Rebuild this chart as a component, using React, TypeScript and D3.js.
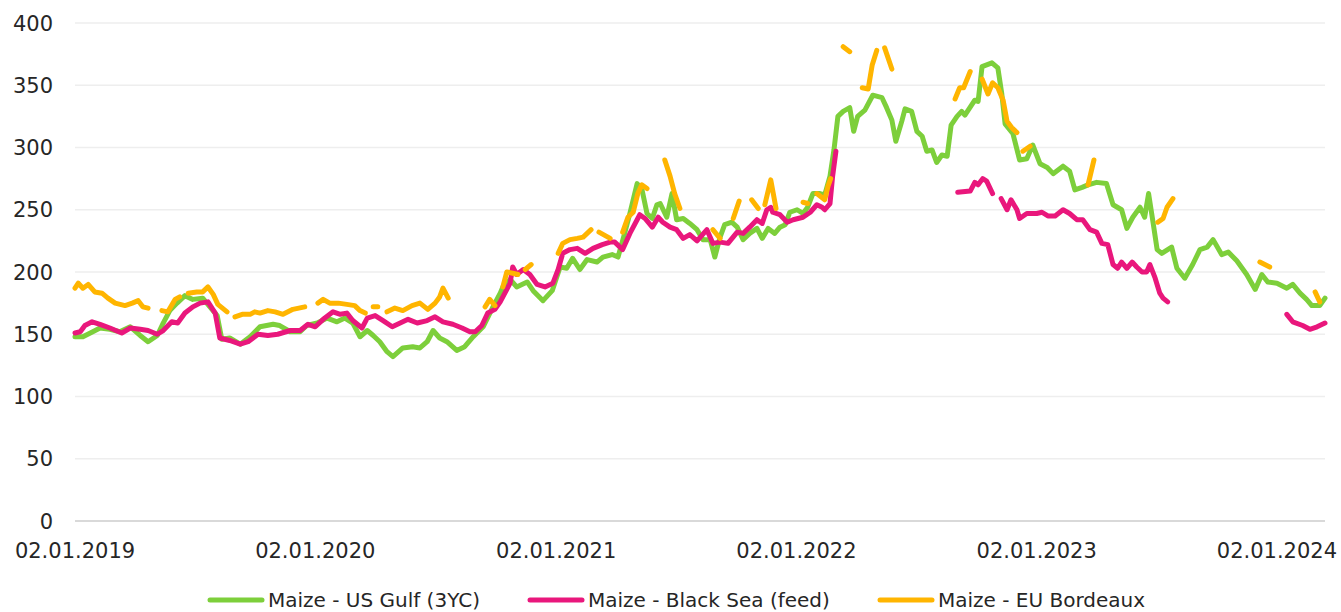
import React from "react";
import * as d3 from "d3";

type Pt = [string | null, number | null];
const GAP: Pt = [null, null];

const seriesNames = ["Maize - US Gulf (3YC)", "Maize - Black Sea (feed)", "Maize - EU Bordeaux"];
const seriesColors = ["#7DCF3B", "#E9177C", "#FFB500"];

const tickDates = ["2019-01-02", "2020-01-02", "2021-01-02", "2022-01-02", "2023-01-02", "2024-01-02"];
const tickLabels = ["02.01.2019", "02.01.2020", "02.01.2021", "02.01.2022", "02.01.2023", "02.01.2024"];
const yTicks = [0, 50, 100, 150, 200, 250, 300, 350, 400];
const xDomain = ["2019-01-02", "2024-03-15"];

const usGulf: Pt[] = [
  ["2019-01-02",148],["2019-01-14",148],["2019-01-29",152],["2019-02-09",155],["2019-02-24",154],["2019-03-11",152],["2019-03-27",156],["2019-04-11",149],["2019-04-23",144],["2019-05-07",149],["2019-05-16",159],["2019-05-26",169],["2019-06-06",175],["2019-06-18",181],["2019-06-30",178],["2019-07-15",179],["2019-07-26",172],["2019-08-06",165],["2019-08-13",146],["2019-08-25",147],["2019-09-10",142],["2019-09-25",148],["2019-10-10",156],["2019-10-30",158],["2019-11-09",157],["2019-11-25",152],["2019-12-10",152],["2019-12-20",157],
  ["2020-01-05",159],["2020-01-20",163],["2020-02-04",160],["2020-02-16",163],["2020-02-28",159],["2020-03-10",148],["2020-03-21",153],["2020-03-30",149],["2020-04-09",144],["2020-04-20",136],["2020-04-29",132],["2020-05-14",139],["2020-05-29",140],["2020-06-09",139],["2020-06-20",144],["2020-06-29",153],["2020-07-09",147],["2020-07-20",144],["2020-08-04",137],["2020-08-16",140],["2020-08-29",148],["2020-09-13",156],["2020-09-28",172],["2020-10-09",183],["2020-10-13",188],["2020-10-24",194],["2020-11-03",188],["2020-11-19",192],["2020-11-28",185],["2020-12-13",177],["2020-12-27",185],
  ["2021-01-08",204],["2021-01-18",203],["2021-01-27",211],["2021-02-07",202],["2021-02-18",210],["2021-03-05",208],["2021-03-14",212],["2021-03-28",214],["2021-04-06",212],["2021-04-16",231],["2021-04-24",247],["2021-05-05",271],["2021-05-12",267],["2021-05-20",247],["2021-05-28",243],["2021-06-04",254],["2021-06-09",255],["2021-06-19",244],["2021-06-27",263],["2021-07-04",242],["2021-07-14",243],["2021-07-24",239],["2021-08-04",234],["2021-08-13",226],["2021-08-24",226],["2021-08-31",212],["2021-09-08",228],["2021-09-15",238],["2021-09-26",240],["2021-10-04",236],["2021-10-13",226],["2021-10-23",231],["2021-11-03",235],["2021-11-11",227],["2021-11-20",235],["2021-11-30",231],["2021-12-08",236],["2021-12-16",238],["2021-12-23",248],
  ["2022-01-03",250],["2022-01-12",247],["2022-01-19",252],["2022-01-27",263],["2022-02-07",263],["2022-02-14",262],["2022-02-22",277],["2022-02-28",298],["2022-03-06",325],["2022-03-14",329],["2022-03-24",332],["2022-03-30",313],["2022-04-05",325],["2022-04-16",330],["2022-04-28",342],["2022-05-12",340],["2022-05-19",332],["2022-05-27",322],["2022-06-02",305],["2022-06-11",321],["2022-06-16",331],["2022-06-26",329],["2022-07-04",313],["2022-07-12",309],["2022-07-19",297],["2022-07-27",298],["2022-08-03",288],["2022-08-11",294],["2022-08-19",293],["2022-08-25",318],["2022-09-03",325],["2022-09-10",329],["2022-09-15",326],["2022-09-30",338],["2022-10-05",337],["2022-10-11",365],["2022-10-26",368],["2022-11-04",364],["2022-11-10",343],["2022-11-15",319],["2022-11-27",311],["2022-12-07",290],["2022-12-18",291],["2022-12-27",302],
  ["2023-01-07",287],["2023-01-18",284],["2023-01-27",279],["2023-02-11",285],["2023-02-21",281],["2023-03-01",266],["2023-03-12",268],["2023-03-21",270],["2023-04-03",272],["2023-04-18",271],["2023-04-28",254],["2023-05-11",250],["2023-05-19",235],["2023-05-28",244],["2023-06-08",252],["2023-06-15",244],["2023-06-21",263],["2023-06-28",239],["2023-07-04",218],["2023-07-11",215],["2023-07-26",220],["2023-08-03",203],["2023-08-15",195],["2023-08-27",206],["2023-09-07",218],["2023-09-18",220],["2023-09-27",226],["2023-10-10",214],["2023-10-20",216],["2023-11-02",209],["2023-11-17",198],["2023-11-30",186],["2023-12-10",198],["2023-12-19",192],
  ["2024-01-02",191],["2024-01-17",187],["2024-01-26",190],["2024-02-06",183],["2024-02-16",178],["2024-02-24",173],["2024-03-07",173],["2024-03-15",179],
];

const blackSea: Pt[] = [
  ["2019-01-02",151],["2019-01-10",152],["2019-01-17",157],["2019-01-28",160],["2019-02-09",158],["2019-02-24",155],["2019-03-14",151],["2019-03-27",155],["2019-04-11",154],["2019-04-23",153],["2019-05-07",150],["2019-05-16",153],["2019-05-29",160],["2019-06-07",159],["2019-06-18",167],["2019-06-30",172],["2019-07-11",175],["2019-07-23",176],["2019-08-03",167],["2019-08-10",147],["2019-08-25",145],["2019-09-10",142],["2019-09-22",144],["2019-10-07",150],["2019-10-22",149],["2019-11-06",150],["2019-11-25",153],["2019-12-10",153],["2019-12-22",158],
  ["2020-01-02",156],["2020-01-14",162],["2020-01-29",168],["2020-02-09",166],["2020-02-19",167],["2020-02-28",161],["2020-03-13",155],["2020-03-21",163],["2020-04-02",165],["2020-04-14",161],["2020-04-28",156],["2020-05-10",159],["2020-05-22",162],["2020-06-05",159],["2020-06-20",161],["2020-07-02",164],["2020-07-14",160],["2020-07-29",158],["2020-08-12",155],["2020-08-24",152],["2020-09-01",152],["2020-09-11",157],["2020-09-20",167],["2020-10-01",170],["2020-10-09",176],["2020-10-13",180],["2020-10-24",191],["2020-10-28",204],["2020-11-03",198],["2020-11-13",202],["2020-11-23",198],["2020-12-04",190],["2020-12-16",188],["2020-12-28",191],
  ["2021-01-05",202],["2021-01-12",215],["2021-01-23",218],["2021-02-03",219],["2021-02-15",215],["2021-02-27",219],["2021-03-13",222],["2021-03-25",224],["2021-04-01",224],["2021-04-13",218],["2021-04-24",231],["2021-05-09",246],["2021-05-17",243],["2021-05-28",236],["2021-06-06",244],["2021-06-13",240],["2021-06-24",236],["2021-07-04",234],["2021-07-14",227],["2021-07-24",230],["2021-08-04",225],["2021-08-19",234],["2021-08-28",223],["2021-09-08",224],["2021-09-20",223],["2021-10-04",232],["2021-10-13",231],["2021-10-23",236],["2021-11-03",242],["2021-11-11",239],["2021-11-18",250],["2021-11-24",252],["2021-11-27",248],["2021-12-08",246],["2021-12-19",240],["2021-12-28",242],
  ["2022-01-12",244],["2022-01-23",248],["2022-02-02",254],["2022-02-10",252],["2022-02-14",250],["2022-02-22",255],["2022-02-26",277],["2022-03-03",297],
  GAP,
  ["2022-09-04",264],["2022-09-23",265],["2022-09-30",272],["2022-10-05",270],["2022-10-12",275],["2022-10-18",273],["2022-10-27",263],
  GAP,
  ["2022-11-09",259],["2022-11-18",250],["2022-11-24",258],["2022-12-03",250],["2022-12-07",243],["2022-12-18",247],
  ["2023-01-02",247],["2023-01-10",248],["2023-01-19",245],["2023-01-30",245],["2023-02-11",250],["2023-02-21",247],["2023-03-04",242],["2023-03-13",242],["2023-03-24",234],["2023-04-03",232],["2023-04-11",223],["2023-04-20",222],["2023-04-28",206],["2023-05-05",203],["2023-05-11",208],["2023-05-19",203],["2023-05-27",208],["2023-06-03",204],["2023-06-11",200],["2023-06-18",200],["2023-06-23",206],["2023-07-01",195],["2023-07-08",183],["2023-07-13",179],["2023-07-20",176],
  GAP,
  ["2024-01-17",166],["2024-01-26",160],["2024-02-10",157],["2024-02-21",154],["2024-03-03",156],["2024-03-15",159],
];

const euBordeaux: Pt[] = [
  ["2019-01-02",187],["2019-01-07",191],["2019-01-14",187],["2019-01-22",190],["2019-02-01",184],["2019-02-12",183],["2019-02-21",179],["2019-03-04",175],["2019-03-19",173],["2019-03-30",175],["2019-04-08",177],["2019-04-15",172],["2019-04-23",171],
  GAP,
  ["2019-05-14",169],["2019-05-23",168],["2019-06-03",178],["2019-06-10",180],
  GAP,
  ["2019-06-23",183],["2019-07-06",184],["2019-07-15",184],["2019-07-23",188],["2019-07-31",182],["2019-08-07",174],["2019-08-21",168],
  GAP,
  ["2019-09-02",164],["2019-09-13",166],["2019-09-25",166],["2019-10-02",168],["2019-10-10",167],["2019-10-22",169],["2019-11-02",168],["2019-11-14",166],["2019-11-29",170],["2019-12-17",172],
  GAP,
  ["2020-01-06",175],["2020-01-14",178],["2020-01-24",175],["2020-02-06",175],["2020-02-19",174],["2020-03-02",173],["2020-03-10",169],["2020-03-18",167],
  GAP,
  ["2020-03-30",172],["2020-04-06",172],
  GAP,
  ["2020-04-20",168],["2020-05-02",171],["2020-05-14",169],["2020-05-28",173],["2020-06-09",175],["2020-06-21",170],["2020-07-02",175],["2020-07-09",180],["2020-07-14",187],["2020-07-22",179],
  GAP,
  ["2020-09-16",172],["2020-09-23",178],["2020-10-01",173],
  GAP,
  ["2020-10-13",188],["2020-10-19",200],["2020-10-28",199],["2020-11-05",198],
  GAP,
  ["2020-11-16",202],["2020-11-25",206],
  GAP,
  ["2021-01-05",215],["2021-01-12",223],["2021-01-23",226],["2021-02-03",227],["2021-02-12",228],["2021-02-24",234],
  GAP,
  ["2021-03-08",232],["2021-03-25",227],
  GAP,
  ["2021-04-13",232],["2021-04-21",244],["2021-04-29",248],["2021-05-06",263],["2021-05-12",270],["2021-05-20",267],
  GAP,
  ["2021-06-16",290],["2021-06-24",277],["2021-07-01",263],["2021-07-09",251],
  GAP,
  ["2021-08-28",234],["2021-09-08",227],
  GAP,
  ["2021-09-28",243],["2021-10-07",257],
  GAP,
  ["2021-10-26",258],["2021-11-05",251],
  GAP,
  ["2021-11-15",254],["2021-11-24",274],["2021-12-02",251],
  GAP,
  ["2022-01-12",256],["2022-01-19",255],
  GAP,
  ["2022-02-02",263],["2022-02-14",258],["2022-02-19",269],["2022-02-23",275],
  GAP,
  ["2022-03-14",381],["2022-03-24",377],
  GAP,
  ["2022-04-12",348],["2022-04-21",347],["2022-04-27",366],["2022-05-04",378],
  GAP,
  ["2022-05-16",380],["2022-05-27",363],
  GAP,
  ["2022-08-31",339],["2022-09-07",348],["2022-09-13",348],["2022-09-23",361],
  GAP,
  ["2022-10-11",355],["2022-10-20",343],["2022-10-27",352],["2022-11-04",348],["2022-11-12",338],["2022-11-18",321],["2022-11-25",316],["2022-12-03",312],
  GAP,
  ["2022-12-12",297],["2022-12-23",301],
  GAP,
  ["2023-03-21",270],["2023-03-30",290],
  GAP,
  ["2023-07-05",240],["2023-07-13",243],["2023-07-19",252],["2023-07-28",259],
  GAP,
  ["2023-12-07",208],["2023-12-22",204],
  GAP,
  ["2024-02-29",184],["2024-03-07",176],
];

const allSeries = [usGulf, blackSea, euBordeaux];

const W = 1341;
const H = 612;
const LEFT = 75;
const RIGHT = 1325;
const TOP = 23;
const BOTTOM = 521;
const FONT = "'DejaVu Sans', sans-serif";
const TEXT = "#262626";

export default function App() {
  const parse = d3.utcParse("%Y-%m-%d");
  const x = d3.scaleUtc().domain(xDomain.map((s) => parse(s) as Date)).range([LEFT, RIGHT]);
  const y = d3.scaleLinear().domain([0, 400]).range([BOTTOM, TOP]);

  const line = d3
    .line<Pt>()
    .defined((d) => d[1] != null && d[0] != null)
    .x((d) => x(parse(d[0] as string) as Date))
    .y((d) => y(d[1] as number));

  const legendX = [210, 530, 880];
  const swatch = 52;

  return (
    <svg
      width={W}
      height={H}
      viewBox={`0 0 ${W} ${H}`}
      style={{ position: "absolute", left: 0, top: 0, background: "#fff" }}
    >
      <rect x={0} y={0} width={W} height={H} fill="#fff" />
      {yTicks.map((t) => (
        <line
          key={"g" + t}
          x1={LEFT}
          x2={RIGHT}
          y1={y(t)}
          y2={y(t)}
          stroke={t === 0 ? "#d9d9d9" : "#eeeeee"}
          strokeWidth={t === 0 ? 2 : 1.5}
        />
      ))}
      {yTicks.map((t) => (
        <text
          key={"yl" + t}
          x={53}
          y={y(t) + 7.6}
          textAnchor="end"
          fontFamily={FONT}
          fontSize={21}
          fill={TEXT}
        >
          {t}
        </text>
      ))}
      {tickDates.map((d, i) => (
        <text
          key={"xl" + d}
          x={x(parse(d) as Date)}
          y={558}
          textAnchor="middle"
          fontFamily={FONT}
          fontSize={21}
          fill={TEXT}
        >
          {tickLabels[i]}
        </text>
      ))}
      {allSeries.map((s, i) => (
        <path
          key={"s" + i}
          d={line(s) || ""}
          fill="none"
          stroke={seriesColors[i]}
          strokeWidth={5}
          strokeLinejoin="round"
          strokeLinecap="round"
        />
      ))}
      {seriesNames.map((n, i) => (
        <g key={"lg" + i}>
          <line
            x1={legendX[i]}
            x2={legendX[i] + swatch}
            y1={600}
            y2={600}
            stroke={seriesColors[i]}
            strokeWidth={5}
            strokeLinecap="round"
          />
          <text x={legendX[i] + swatch + 6} y={607} fontFamily={FONT} fontSize={20} fill={TEXT}>
            {n}
          </text>
        </g>
      ))}
    </svg>
  );
}
